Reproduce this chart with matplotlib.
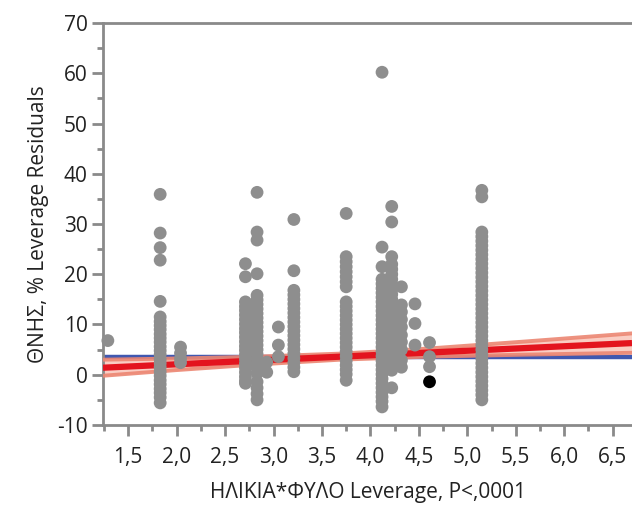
import numpy as np
import matplotlib
matplotlib.use("Agg")
import matplotlib.pyplot as plt
from matplotlib.ticker import MultipleLocator, FuncFormatter

plt.rcParams['font.family'] = ['Open Sans', 'DejaVu Sans']

# leverage residuals, one list per leverage column
col_x = [1.29, 1.83, 2.04, 2.71, 2.83, 2.93, 3.05, 3.21, 3.75, 4.12, 4.22, 4.32, 4.46, 4.61, 5.15]
col_y = [
    [6.8],
    [35.9, 28.2, 25.3, 22.8, 14.6, 11.5, 10.6, 9.8, 9.0, 8.1, 7.3, 6.5, 5.6, 4.8, 4.0, 3.1,
     2.3, 1.5, 0.6, -0.2, -1.1, -1.9, -2.8, -3.6, -4.5, -5.6],
    [5.5, 4.3, 3.2, 2.4],
    [22.1, 19.5, 14.5, 13.6, 12.8, 11.9, 11.0, 10.1, 9.2, 8.4, 7.5, 6.6, 5.7, 4.9, 4.0, 3.1,
     2.2, 1.4, 0.5, -0.4, -1.2, -1.7],
    [36.3, 28.4, 26.8, 20.1, 15.8, 14.9, 14.0, 13.1, 12.2, 11.3, 10.4, 9.5, 8.6, 7.7, 6.8,
     5.9, 5.0, 4.1, 3.2, 2.3, 1.4, 0.3, -1.4, -2.6, -3.8, -5.0],
    [2.5, 0.5],
    [9.5, 5.9, 3.6],
    [30.9, 20.7, 16.8, 15.9, 15.0, 14.1, 13.2, 12.3, 11.4, 10.5, 9.6, 8.7, 7.8, 6.9, 6.0,
     5.1, 4.2, 3.3, 2.4, 1.5, 0.6],
    [32.1, 23.5, 22.5, 21.5, 20.5, 19.5, 18.5, 17.5, 14.5, 13.6, 12.7, 11.8, 10.9, 10.0, 9.1,
     8.2, 7.3, 6.4, 5.5, 4.6, 3.7, 2.8, 1.9, 1.0, 0.1, -1.1],
    [60.2, 25.4, 21.5, 19.0, 18.1, 17.2, 16.3, 15.4, 14.5, 13.6, 12.7, 11.8, 10.9, 10.0, 9.1,
     8.2, 7.3, 6.4, 5.5, 4.6, 3.7, 2.8, 1.9, 1.0, 0.1, -0.8, -1.7, -2.6, -3.5, -4.4, -5.3, -6.4],
    [33.5, 30.4, 23.5, 22.0, 21.0, 20.0, 19.0, 18.0, 17.0, 16.0, 15.0, 14.0, 13.0, 12.0, 11.0,
     10.0, 9.0, 8.0, 7.0, 6.0, 5.0, 4.0, 3.0, 2.0, 0.9, -2.6],
    [17.5, 13.9, 12.5, 11.0, 9.5, 7.9, 6.5, 5.0, 2.9, 1.5],
    [14.1, 10.2, 5.9],
    [6.4, 3.6, 1.6],
    [36.7, 35.4, 28.4, 27.5, 26.6, 25.7, 24.8, 23.9, 23.0, 22.1, 21.2, 20.3, 19.4, 18.5, 17.6,
     16.7, 15.8, 14.9, 14.0, 13.1, 12.2, 11.3, 10.4, 9.5, 8.6, 7.7, 6.8, 5.9, 5.0, 4.1, 3.2,
     2.3, 1.4, 0.5, -0.4, -1.3, -2.2, -3.1, -4.0, -5.0],
]
# highlighted point
sel_x = [4.61]
sel_y = [-1.4]

# fit line, mean line and confidence curves
fit_x = [1.24, 6.7]
fit_y = [1.4, 6.3]
mean_y = 3.6
band_x = [1.24, 2.0, 2.8, 3.7, 4.6, 5.6, 6.7]
band_lo = [-0.2, 0.93, 2.01, 3.01, 3.60, 4.00, 4.37]
band_hi = [3.0, 3.23, 3.59, 4.21, 5.22, 6.62, 8.23]

gray = '#8e8e8e'
axis_gray = '#8a8a8a'

fig = plt.figure(figsize=(6.32, 5.08), dpi=100)
ax = fig.add_axes([0.163, 0.1634, 0.837, 0.7913])

ax.plot([1.0, 7.0], [mean_y, mean_y], color='#4058b0', lw=3.2, zorder=1, solid_capstyle='butt')
ax.fill_between(band_x, band_lo, band_hi, color='#f4907a', alpha=0.45, lw=0, zorder=2)
ax.plot(band_x, band_lo, color='#ec8672', lw=2.8, alpha=0.9, zorder=3)
ax.plot(band_x, band_hi, color='#ec8672', lw=2.8, alpha=0.9, zorder=3)
ax.plot(fit_x, fit_y, color='#e3141e', lw=4.5, zorder=4, solid_capstyle='butt')

xs = np.concatenate([[x] * len(ys) for x, ys in zip(col_x, col_y)])
ys = np.concatenate(col_y)
ax.scatter(xs, ys, s=85, color=gray, edgecolors='none', zorder=5, clip_on=False)
ax.scatter(sel_x, sel_y, s=85, color='black', edgecolors='none', zorder=6)

ax.set_xlim(1.24, 6.7)
ax.set_ylim(-10, 70)
ax.xaxis.set_major_locator(MultipleLocator(0.5))
ax.xaxis.set_minor_locator(MultipleLocator(0.25))
ax.yaxis.set_major_locator(MultipleLocator(10))
ax.yaxis.set_minor_locator(MultipleLocator(5))
ax.xaxis.set_major_formatter(FuncFormatter(lambda v, p: f"{v:.1f}".replace('.', ',')))
ax.yaxis.set_major_formatter(FuncFormatter(lambda v, p: f"{v:.0f}"))

for side in ['left', 'bottom', 'top']:
    ax.spines[side].set_color(axis_gray)
    ax.spines[side].set_linewidth(2.0)
ax.spines['right'].set_visible(False)

ax.tick_params(which='major', length=8, width=2, color=axis_gray, labelsize=15,
               labelcolor='#222222', pad=3)
ax.tick_params(which='minor', length=4, width=2, color=axis_gray)
ax.tick_params(axis='x', pad=8)

ax.set_xlabel('ΗΛΙΚΙΑ*ΦΥΛΟ Leverage, P<,0001', fontsize=15, color='#222222', labelpad=10)
ax.set_ylabel('ΘΝΗΣ, % Leverage Residuals', fontsize=15, color='#222222', labelpad=6)

fig.savefig('out.png', dpi=100)
